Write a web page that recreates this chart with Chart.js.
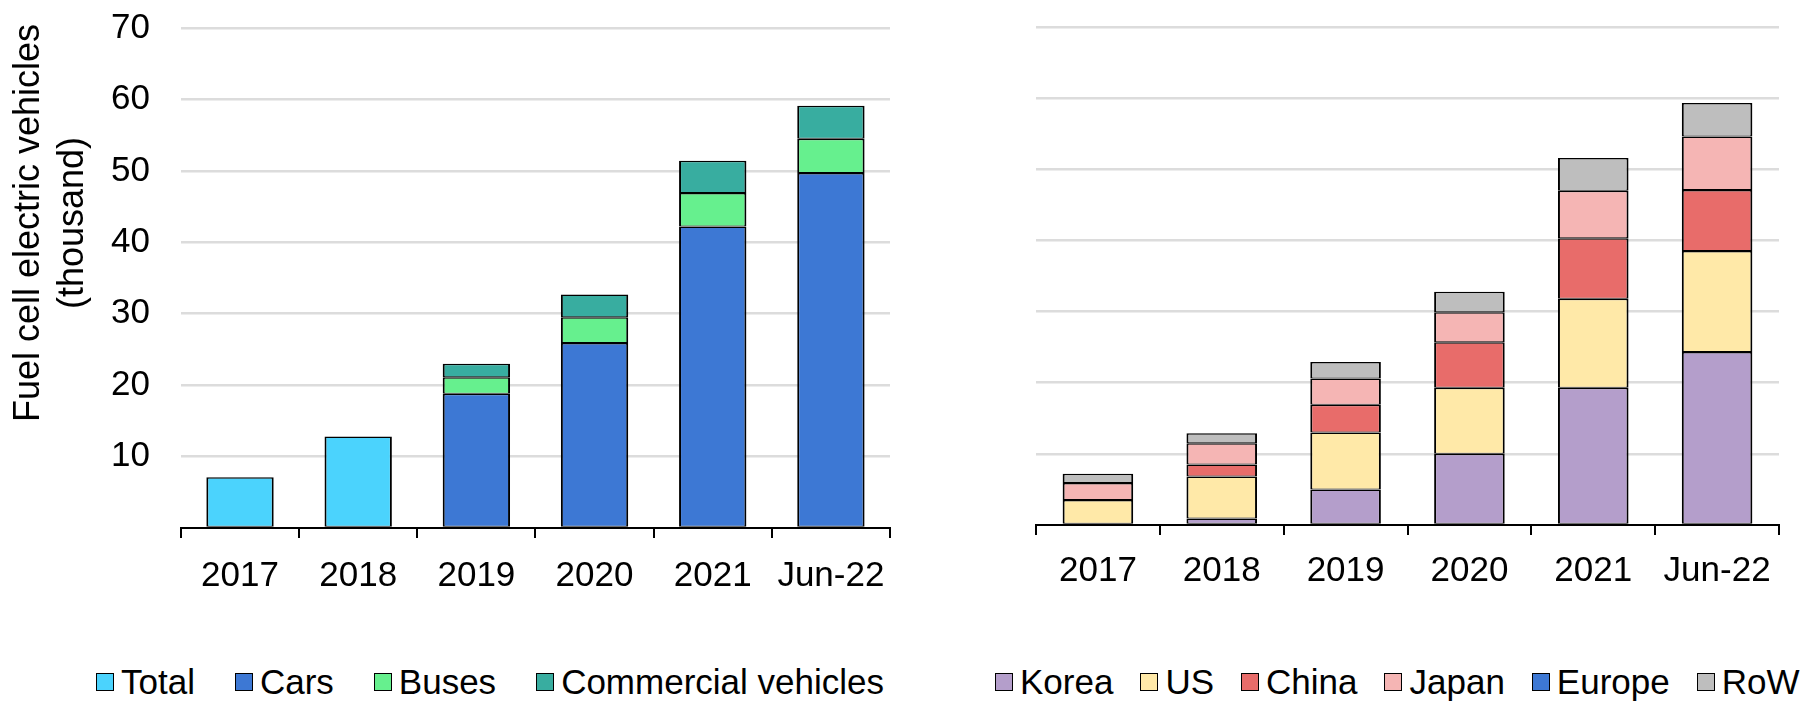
<!DOCTYPE html>
<html>
<head>
<meta charset="utf-8">
<script src="https://cdn.jsdelivr.net/npm/chart.js@4.4.1/dist/chart.umd.min.js"></script>
<style>
  html, body { margin: 0; padding: 0; background: #fff; }
  body { width: 1809px; height: 701px; position: relative; overflow: hidden;
         font-family: 'Liberation Sans', Arial, sans-serif; color: #000; }
  canvas { position: absolute; top: 0; }
  #leftChart { left: 0; }
  #rightChart { left: 905px; }
  #yTitle { position: absolute; left: -202px; top: 180px; width: 500px; height: 86px;
            transform: rotate(-90deg); text-align: center; font-size: 36px; line-height: 44px; }
  .legend { position: absolute; top: 662px; height: 40px; display: flex; align-items: center;
            font-size: 35px; white-space: nowrap; }
  .legend .item { display: flex; align-items: center; }
  .legend i { display: inline-block; width: 16px; height: 16px; border: 1px solid #000; margin-right: 7px; }
  #leftLegend .item { margin-right: 40px; }
  #rightLegend .item { margin-right: 27px; }
</style>
</head>
<body>
<canvas id="leftChart" width="905" height="620"></canvas>
<canvas id="rightChart" width="904" height="617"></canvas>
<div id="yTitle">Fuel cell electric vehicles<br>(thousand)</div>
<div class="legend" id="leftLegend" style="left:96px"></div>
<div class="legend" id="rightLegend" style="left:995px"></div>
<script>
// periods on the x axis
const periods = ['2017', '2018', '2019', '2020', '2021', 'Jun-22'];

// left chart: by vehicle type (thousand)
const total = [7.1, 12.8, null, null, null, null];
const carsData = [null, null, 18.8, 25.9, 42.2, 49.7];
const busesData = [null, null, 2.3, 3.6, 4.7, 4.8];
const commercialData = [null, null, 1.9, 3.2, 4.5, 4.6];

// right chart: by region (thousand)
const korea = [0, 0.9, 5.0, 10.0, 19.3, 24.3];
const us = [3.5, 5.9, 8.0, 9.3, 12.5, 14.2];
const china = [0, 1.7, 3.9, 6.4, 8.5, 8.6];
const japan = [2.4, 3.0, 3.7, 4.2, 6.7, 7.5];
const europe = [0, 0, 0, 0, 0, 0];
const row = [1.3, 1.4, 2.3, 2.9, 4.6, 4.7];

const yMax = 70;
const yStep = 10;

Chart.defaults.font.family = "'Liberation Sans', Arial, sans-serif";
Chart.defaults.font.size = 35;
Chart.defaults.color = '#000';

function bar(label, data, color) {
  return {
    label,
    data,
    backgroundColor: color,
    borderColor: '#000',
    borderWidth: { top: 1.5, bottom: 1, left: 2, right: 2 },
    borderSkipped: false,
    inflateAmount: 0,
    barPercentage: 0.57,
    categoryPercentage: 1,
  };
}

function makeChart(id, datasets, padding, showYLabels, labelPad) {
  return new Chart(document.getElementById(id), {
    type: 'bar',
    data: { labels: periods, datasets },
    options: {
      responsive: false,
      animation: false,
      layout: { padding },
      plugins: { legend: { display: false }, tooltip: { enabled: false } },
      scales: {
        x: {
          stacked: true,
          border: { color: '#000', width: 2 },
          grid: { offset: true, drawOnChartArea: false, drawTicks: true, tickLength: 10, color: '#000', lineWidth: 2 },
          ticks: { padding: labelPad, maxRotation: 0 },
        },
        y: {
          stacked: true,
          min: 0,
          max: yMax,
          border: { display: false },
          grid: {
            drawTicks: false,
            lineWidth: 2.5,
            color: (c) => (c.tick && c.tick.value === 0 ? 'rgba(0,0,0,0)' : '#dcdcdc'),
          },
          ticks: {
            display: showYLabels,
            stepSize: yStep,
            padding: 31,
            callback: (v) => (v === 0 ? '' : v),
          },
          // keep the label gap from pushing the plot down
          afterFit: (scale) => {
            scale.paddingTop = 0;
            scale.paddingBottom = 0;
          },
        },
      },
    },
  });
}

function buildLegend(chart, el) {
  chart.data.datasets.forEach((ds) => {
    const item = document.createElement('span');
    item.className = 'item';
    const sw = document.createElement('i');
    sw.style.background = ds.backgroundColor;
    item.appendChild(sw);
    item.appendChild(document.createTextNode(ds.label));
    el.appendChild(item);
  });
}

const left = makeChart('leftChart', [
  bar('Total', total, '#4bd3fd'),
  bar('Cars', carsData, '#3d78d4'),
  bar('Buses', busesData, '#66f08e'),
  bar('Commercial vehicles', commercialData, '#38ada0'),
], { left: 80, right: 15, top: 28, bottom: 6 }, true, 17);

const right = makeChart('rightChart', [
  bar('Korea', korea, '#b49ecb'),
  bar('US', us, '#ffe9a8'),
  bar('China', china, '#e86c6a'),
  bar('Japan', japan, '#f5b5b4'),
  bar('Europe', europe, '#3d78d4'),
  bar('RoW', row, '#bebebe'),
], { left: 131, right: 30, top: 27, bottom: 10 }, false, 15);

buildLegend(left, document.getElementById('leftLegend'));
buildLegend(right, document.getElementById('rightLegend'));
</script>
</body>
</html>
